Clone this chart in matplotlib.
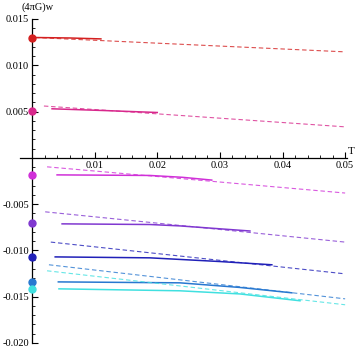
import matplotlib.pyplot as plt
from matplotlib.ticker import MultipleLocator, FixedLocator

# colours of the seven branches, top to bottom
colors = ['#d42020', '#d8288c', '#d030d8', '#8038d0', '#2020b8', '#2878d0', '#40e0e0']

# values at T = 0 (dots)
dot_w = [0.0130, 0.00508, -0.00184, -0.0070, -0.0107, -0.0134, -0.01415]

# dashed straight lines: start (T, w) and value at T = 0.05
dash_T0 = [0.0005, 0.0019, 0.0024, 0.0021, 0.0030, 0.0027, 0.0024]
dash_w0 = [0.0130, 0.0056, -0.00097, -0.00583, -0.0091, -0.01155, -0.0122]
dash_T1 = 0.05
dash_w1 = [0.01145, 0.00335, -0.0038, -0.0091, -0.01253, -0.01523, -0.01587]

# solid curves
solid_T = [
    [0.0005, 0.006, 0.011],
    [0.0032, 0.012, 0.020],
    [0.004, 0.0188, 0.024, 0.0287],
    [0.0048, 0.0188, 0.0236, 0.0348],
    [0.0037, 0.0188, 0.0300, 0.0383],
    [0.0042, 0.0236, 0.0332, 0.0415],
    [0.0043, 0.0236, 0.0332, 0.0428],
]
solid_w = [
    [0.0130, 0.01295, 0.01285],
    [0.0053, 0.0051, 0.0049],
    [-0.00184, -0.0019, -0.0021, -0.0024],
    [-0.00713, -0.0072, -0.00735, -0.0079],
    [-0.0107, -0.0108, -0.0112, -0.01155],
    [-0.0134, -0.0135, -0.0140, -0.01458],
    [-0.01415, -0.01436, -0.0147, -0.01544],
]

x_ticks = [0.01, 0.02, 0.03, 0.04, 0.05]
x_labels = ['0.01', '0.02', '0.03', '0.04', '0.05']
y_ticks = [-0.020, -0.015, -0.010, -0.005, 0.005, 0.010, 0.015]
y_labels = ['-0.020', '-0.015', '-0.010', '-0.005', '0.005', '0.010', '0.015']

plt.rcParams['font.family'] = ['Liberation Serif', 'DejaVu Serif']

fig = plt.figure(figsize=(3.6, 3.49), dpi=100)
ax = fig.add_axes([20 / 360, 1 - 343 / 349, 327 / 360, 324 / 349])

for i, c in enumerate(colors):
    ax.plot([dash_T0[i], dash_T1], [dash_w0[i], dash_w1[i]], color=c,
            lw=0.8, ls=(0, (4, 2.5)), alpha=0.8)
    ax.plot(solid_T[i], solid_w[i], color=c, lw=1.1)
    ax.plot([0], [dot_w[i]], 'o', color=c, ms=5, clip_on=False, zorder=5)

ax.set_xlim(-0.00192, 0.0503)
ax.set_ylim(-0.020, 0.015)

ax.spines['left'].set_position(('data', 0))
ax.spines['bottom'].set_position(('data', 0))
ax.spines['top'].set_visible(False)
ax.spines['right'].set_visible(False)
for s in ['left', 'bottom']:
    ax.spines[s].set_linewidth(0.9)

ax.xaxis.set_major_locator(FixedLocator(x_ticks))
ax.set_xticklabels(x_labels)
ax.xaxis.set_minor_locator(MultipleLocator(0.002))
ax.yaxis.set_major_locator(FixedLocator(y_ticks))
ax.set_yticklabels(y_labels)
ax.yaxis.set_minor_locator(MultipleLocator(0.001))

ax.tick_params(which='major', direction='in', length=4, width=0.8, labelsize=7.5, pad=2)
ax.tick_params(which='minor', direction='in', length=2, width=0.6)

ax.text(0.0009, 0.0163, '(4πG)w', fontsize=7.5, ha='center', va='center', clip_on=False)
ax.text(0.0505, 0.0002, 'T', fontsize=8, ha='left', va='bottom')

fig.savefig('out.png', dpi=100)
